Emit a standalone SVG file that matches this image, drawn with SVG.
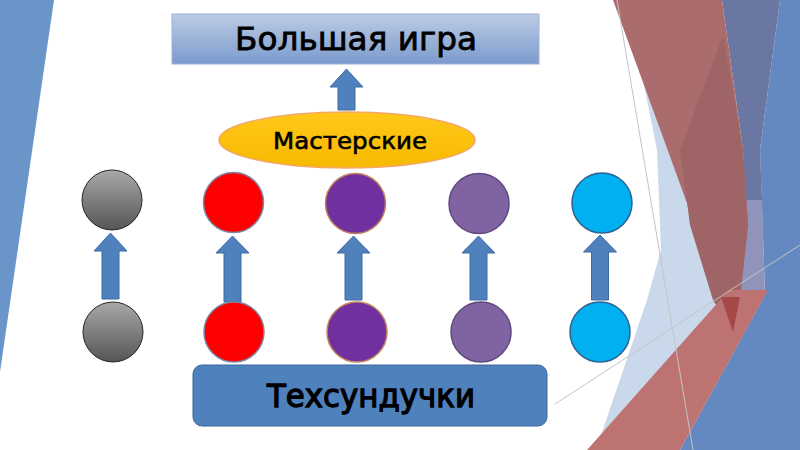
<svg xmlns="http://www.w3.org/2000/svg" width="800" height="450" viewBox="0 0 800 450">
<defs>
<linearGradient id="gTitle" x1="0" y1="0" x2="0" y2="1"><stop offset="0" stop-color="#bccbe4"/><stop offset="1" stop-color="#7b9bcd"/></linearGradient>
<linearGradient id="gGray" x1="0" y1="0" x2="0" y2="1"><stop offset="0" stop-color="#a8a8a8"/><stop offset="1" stop-color="#555555"/></linearGradient>
<linearGradient id="gGold" x1="0" y1="0" x2="0" y2="1"><stop offset="0" stop-color="#ffc81a"/><stop offset="1" stop-color="#f7b900"/></linearGradient>
<style>
.arrow{fill:#4f81bd;stroke:#3c6ba3;stroke-width:1}
.lbl{font-family:"DejaVu Sans","Open Sans",sans-serif;fill:#000;stroke:#000;text-anchor:middle}
.thin{stroke:#c4c4c4;stroke-width:1;fill:none}
</style>
</defs>
<rect width="800" height="450" fill="#ffffff"/>
<g id="background">
<polygon points="0,0 54,0 0,372" fill="#6a95c8"/>
<polygon points="780,0 800,0 800,450 680,450 765,295 760,150" fill="#6389c0"/>
<polygon points="638,55 740,330 600,450 596,450 647,300 661,250 657,150" fill="#cad8ec"/>
<polygon points="722,0 780,0 760,150 762,200 745,200 743,150" fill="#6977a2"/>
<polygon points="745,200 762,200 765,295 737,330 740,300" fill="#9093bb"/>
<polygon points="613,0 722,0 743,150 748,225 735,335" fill="#aa6c6c"/>
<polygon points="723,35 743,150 748,225 740,300 733,332 713,300 690,225 680,150" fill="#9f6466"/>
<polygon points="587,450 680,450 768,290 729,290" fill="#be7373"/>
<polygon points="721,297 740,297 733,332" fill="#a54848"/>
<line class="thin" x1="617" y1="0" x2="693" y2="450"/>
<line class="thin" x1="555" y1="404" x2="800" y2="245"/>
</g>
<g id="connectors">
<polygon class="arrow" points="346.5,69 363,87 355,87 355,110 338,110 338,87 330,87"/>
<polygon class="arrow" points="110.5,233 127,251 119,251 119,299 102,299 102,251 94,251"/>
<polygon class="arrow" points="232.5,236 249,253 241,253 241,302 224,302 224,253 216,253"/>
<polygon class="arrow" points="353.5,236 370,253 362,253 362,300 345,300 345,253 337,253"/>
<polygon class="arrow" points="478.5,236 495,253 487,253 487,300 470,300 470,253 462,253"/>
<polygon class="arrow" points="600,235 616.5,252 608.5,252 608.5,300 591.5,300 591.5,252 583.5,252"/>
</g>
<g id="bolshaya-igra">
<rect x="172" y="14" width="367" height="50" fill="url(#gTitle)" stroke="#9db2d8" stroke-width="1"/>
<text class="lbl" x="356" y="50" font-size="32" stroke-width="0.8" textLength="242" lengthAdjust="spacingAndGlyphs">Большая игра</text>
</g>
<g id="masterskie">
<ellipse cx="347" cy="140" rx="128" ry="28" fill="url(#gGold)" stroke="#f2a765" stroke-width="1.5"/>
<text class="lbl" x="350" y="149" font-size="23" stroke-width="0.6" textLength="154" lengthAdjust="spacingAndGlyphs">Мастерские</text>
</g>
<g id="gray-top"><circle cx="112" cy="200" r="30" fill="url(#gGray)" stroke="#262626" stroke-width="1"/></g>
<g id="gray-bottom"><circle cx="113" cy="332" r="30" fill="url(#gGray)" stroke="#262626" stroke-width="1"/></g>
<g id="red-top"><circle cx="233.5" cy="202.5" r="30" fill="#ff0000" stroke="#7d84a6" stroke-width="1.5"/></g>
<g id="red-bottom"><circle cx="234" cy="332" r="30" fill="#ff0000" stroke="#7d84a6" stroke-width="1.5"/></g>
<g id="purple-top"><circle cx="355.5" cy="203.5" r="30" fill="#7030a0" stroke="#c0845c" stroke-width="1.5"/></g>
<g id="purple-bottom"><circle cx="357" cy="332" r="30" fill="#7030a0" stroke="#c0845c" stroke-width="1.5"/></g>
<g id="violet-top"><circle cx="479" cy="203.5" r="30" fill="#8064a2" stroke="#5d4a80" stroke-width="1.5"/></g>
<g id="violet-bottom"><circle cx="481" cy="332" r="30" fill="#8064a2" stroke="#5d4a80" stroke-width="1.5"/></g>
<g id="cyan-top"><circle cx="602" cy="203" r="30" fill="#00b0f0" stroke="#2e6190" stroke-width="1.5"/></g>
<g id="cyan-bottom"><circle cx="600" cy="332" r="30" fill="#00b0f0" stroke="#2e6190" stroke-width="1.5"/></g>
<g id="tehsunduchki">
<rect x="193" y="365" width="354" height="61" rx="9" fill="#4f81bd" stroke="#3a679c" stroke-width="1"/>
<text class="lbl" x="371" y="407" font-size="32" stroke-width="1.3" textLength="208" lengthAdjust="spacingAndGlyphs">Техсундучки</text>
</g>
</svg>
